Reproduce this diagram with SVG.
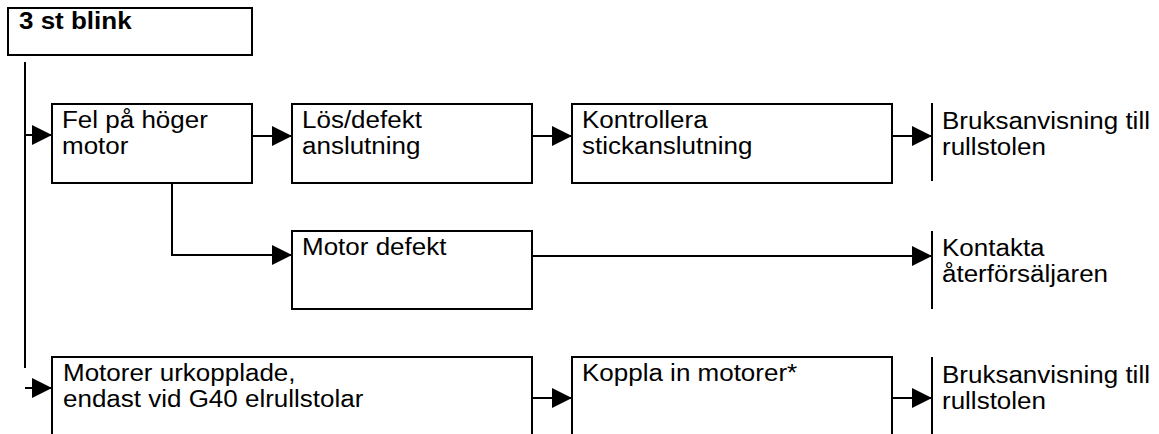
<svg xmlns="http://www.w3.org/2000/svg" width="1159" height="434" viewBox="0 0 1159 434">
  <style>
    .box { fill: #fff; stroke: #000; stroke-width: 2; }
    .bar { stroke: #000; stroke-width: 2; fill: none; }
    .t { font-family: "Liberation Sans", Arial, sans-serif; font-size: 23px; fill: #000; }
    .b { font-weight: bold; }
    .c { stroke: #000; stroke-width: 2; fill: none; }
    .ca { stroke: #000; stroke-width: 2; fill: none; marker-end: url(#ah); }
  </style>
  <defs>
    <marker id="ah" markerUnits="userSpaceOnUse" markerWidth="20" markerHeight="20" viewBox="0 0 20 20" refX="20" refY="10" orient="auto">
      <path d="M0,0 L20,10 L0,20 Z" fill="#000"/>
    </marker>
  </defs>
  <rect width="1159" height="434" fill="#fff"/>

  <g id="connectors">
    <path class="c" d="M25,62 V368"/>
    <path class="ca" d="M25,135 H52"/>
    <path class="ca" d="M252,136 H292"/>
    <path class="ca" d="M532,136 H572"/>
    <path class="ca" d="M892,136 H932"/>
    <path class="ca" d="M172,183 V255 H292"/>
    <path class="ca" d="M532,256 H932"/>
    <path class="ca" d="M25,388 H52"/>
    <path class="ca" d="M532,398 H572"/>
    <path class="ca" d="M892,398 H932"/>
  </g>

  <g id="n-3stblink">
    <rect class="box" x="8" y="8" width="244" height="47"/>
    <text class="t b" transform="translate(19,29) scale(1.13,1)">3 st blink</text>
  </g>

  <g id="n-fel">
    <rect class="box" x="52" y="104" width="200" height="79"/>
    <text class="t" transform="translate(62,128) scale(1.13,1)"><tspan x="0" y="0">Fel på höger</tspan><tspan x="0" y="26">motor</tspan></text>
  </g>

  <g id="n-los">
    <rect class="box" x="292" y="104" width="240" height="79"/>
    <text class="t" transform="translate(302,128) scale(1.13,1)"><tspan x="0" y="0">Lös/defekt</tspan><tspan x="0" y="26">anslutning</tspan></text>
  </g>

  <g id="n-kontrollera">
    <rect class="box" x="572" y="104" width="320" height="79"/>
    <text class="t" transform="translate(582,128) scale(1.13,1)"><tspan x="0" y="0">Kontrollera</tspan><tspan x="0" y="26">stickanslutning</tspan></text>
  </g>

  <g id="n-bruks1">
    <path class="bar" d="M932,103 V181"/>
    <text class="t" transform="translate(942,129) scale(1.13,1)"><tspan x="0" y="0">Bruksanvisning till</tspan><tspan x="0" y="26">rullstolen</tspan></text>
  </g>

  <g id="n-motordefekt">
    <rect class="box" x="292" y="231" width="240" height="78"/>
    <text class="t" transform="translate(302,255) scale(1.13,1)">Motor defekt</text>
  </g>

  <g id="n-kontakta">
    <path class="bar" d="M932,231 V309"/>
    <text class="t" transform="translate(942,256) scale(1.13,1)"><tspan x="0" y="0">Kontakta</tspan><tspan x="0" y="26">återförsäljaren</tspan></text>
  </g>

  <g id="n-urkopplade">
    <rect class="box" x="52" y="357" width="480" height="100"/>
    <text class="t" transform="translate(63,381) scale(1.13,1)"><tspan x="0" y="0">Motorer urkopplade,</tspan><tspan x="0" y="26">endast vid G40 elrullstolar</tspan></text>
  </g>

  <g id="n-koppla">
    <rect class="box" x="572" y="357" width="320" height="100"/>
    <text class="t" transform="translate(582,381) scale(1.13,1)">Koppla in motorer*</text>
  </g>

  <g id="n-bruks2">
    <path class="bar" d="M932,357 V440"/>
    <text class="t" transform="translate(942,383) scale(1.13,1)"><tspan x="0" y="0">Bruksanvisning till</tspan><tspan x="0" y="26">rullstolen</tspan></text>
  </g>
</svg>
